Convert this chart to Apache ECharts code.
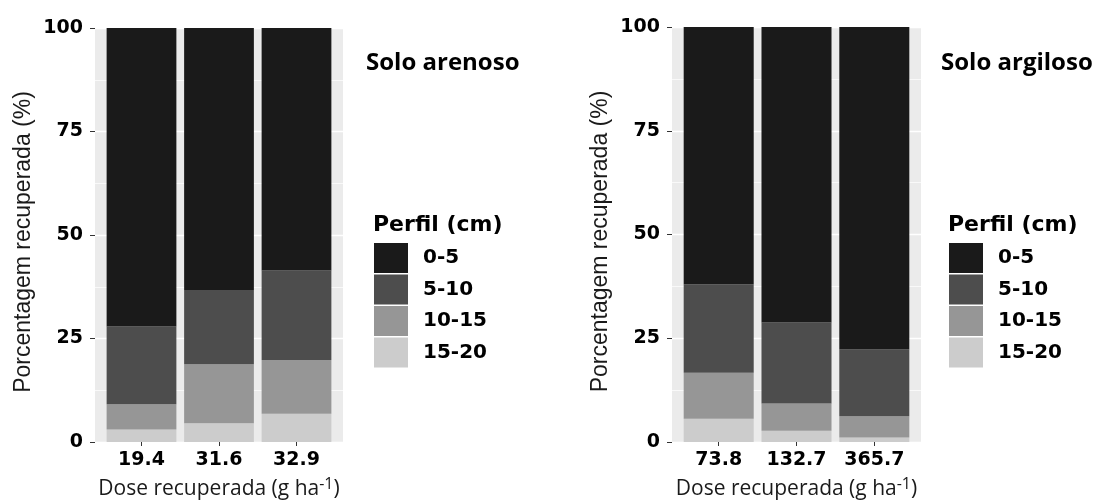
<!DOCTYPE html>
<html>
<head>
<meta charset="utf-8">
<script src="https://cdn.jsdelivr.net/npm/echarts@6/dist/echarts.min.js"></script>
<style>
  html, body { margin: 0; padding: 0; background: #fff; }
  #chart { width: 1099px; height: 501px; }
</style>
</head>
<body>
<div id="chart"></div>
<script>
// dados
const perfis = ['0-5', '5-10', '10-15', '15-20']
const coresPerfil = ['#1a1a1a', '#4d4d4d', '#969696', '#cccccc']

// Solo arenoso
const dosesArenoso = ['19.4', '31.6', '32.9']
const arenoso_0_5 = [72.1, 63.3, 58.6]
const arenoso_5_10 = [18.8, 17.9, 21.6]
const arenoso_10_15 = [6.1, 14.3, 13.0]
const arenoso_15_20 = [3.0, 4.5, 6.8]

// Solo argiloso
const dosesArgiloso = ['73.8', '132.7', '365.7']
const argiloso_0_5 = [62.0, 71.2, 77.7]
const argiloso_5_10 = [21.3, 19.5, 16.1]
const argiloso_10_15 = [11.1, 6.6, 5.1]
const argiloso_15_20 = [5.6, 2.7, 1.1]

const yTicks = [0, 25, 50, 75, 100]

const fontTick = 'DejaVu Sans'
const fontTitulo = 'Open Sans'

const chart = echarts.init(document.getElementById('chart'))

// eixo y visível (no painel cinza)
const eixoYPainel = (grid) => ({
  gridIndex: grid,
  type: 'value',
  min: yTicks[0],
  max: yTicks[yTicks.length - 1],
  interval: 25,
  name: 'Porcentagem recuperada (%)',
  nameLocation: 'middle',
  nameRotate: 90,
  nameGap: 60,
  nameTextStyle: { fontFamily: 'Liberation Sans', fontSize: 23, color: '#1a1a1a', padding: [0, 14, 0, 0] },
  axisLine: { show: false },
  axisTick: { show: true, length: 5, lineStyle: { color: '#333', width: 1 } },
  axisLabel: { margin: 12, fontFamily: fontTick, fontWeight: 'bold', fontSize: 19, color: '#000' },
  splitLine: { show: true, lineStyle: { color: '#fff', width: 1.4 } },
  minorTick: { show: false, splitNumber: 2 },
  minorSplitLine: { show: true, lineStyle: { color: '#fff', width: 0.7 } }
})

const eixoYDados = (grid) => ({
  gridIndex: grid, type: 'value', min: 0, max: 100, show: false
})

const eixoXFundo = (grid) => ({
  gridIndex: grid, type: 'value', min: 0, max: 1, show: false
})

const eixoXDados = (grid, doses) => ({
  gridIndex: grid,
  type: 'category',
  data: doses,
  name: 'Dose recuperada (g ha{sup|-1})',
  nameLocation: 'middle',
  nameGap: 34,
  nameTextStyle: {
    fontFamily: fontTitulo, fontSize: 21, color: '#1a1a1a',
    rich: { sup: { fontFamily: fontTitulo, fontSize: 16, color: '#1a1a1a', verticalAlign: 'top', padding: [0, 0, 10, 0] } }
  },
  axisLine: { show: false },
  axisTick: { show: true, alignWithLabel: true, length: 4, lineStyle: { color: '#333', width: 1 } },
  axisLabel: { interval: 0, hideOverlap: false, margin: 9, fontFamily: fontTick, fontWeight: 'bold', fontSize: 19, color: '#000' }
})

const serieBarra = (nome, cor, dados, eixo, pilha) => ({
  name: nome,
  type: 'bar',
  stack: pilha,
  xAxisIndex: eixo,
  yAxisIndex: eixo,
  barWidth: '90%',
  itemStyle: { color: cor },
  emphasis: { disabled: true },
  data: dados
})

const legenda = (left) => ({
  orient: 'vertical',
  left: left,
  top: 243,
  padding: 0,
  itemWidth: 34,
  itemHeight: 30,
  itemGap: 1.5,
  icon: 'rect',
  selectedMode: false,
  data: perfis,
  textStyle: { fontFamily: fontTick, fontWeight: 'bold', fontSize: 20, color: '#000', padding: [0, 0, 0, 10] }
})

const painelFundo = { show: true, backgroundColor: '#ebebeb', borderWidth: 0, outerBoundsMode: 'none' }

chart.setOption({
  animation: false,
  title: [
    { text: 'Solo arenoso', left: 366, top: 51, padding: 0,
      textStyle: { fontFamily: fontTitulo, fontWeight: 'bold', fontSize: 24, color: '#000' } },
    { text: 'Solo argiloso', left: 941, top: 51, padding: 0,
      textStyle: { fontFamily: fontTitulo, fontWeight: 'bold', fontSize: 24, color: '#000' } },
    { text: 'Perfil (cm)', left: 373, top: 214, padding: 0,
      textStyle: { fontFamily: fontTick, fontWeight: 'bold', fontSize: 22, color: '#000' } },
    { text: 'Perfil (cm)', left: 948, top: 214, padding: 0,
      textStyle: { fontFamily: fontTick, fontWeight: 'bold', fontSize: 22, color: '#000' } }
  ],
  legend: [legenda(374), legenda(949)],
  grid: [
    Object.assign({ left: 95, top: 28, width: 248, height: 414 }, painelFundo),
    { left: 102.75, top: 28, width: 232.5, height: 414, outerBoundsMode: 'none' },
    Object.assign({ left: 672, top: 27, width: 249, height: 415 }, painelFundo),
    { left: 679.8, top: 27, width: 233.4, height: 415, outerBoundsMode: 'none' }
  ],
  xAxis: [
    eixoXFundo(0),
    eixoXDados(1, dosesArenoso),
    eixoXFundo(2),
    eixoXDados(3, dosesArgiloso)
  ],
  yAxis: [
    eixoYPainel(0),
    eixoYDados(1),
    eixoYPainel(2),
    eixoYDados(3)
  ],
  series: [
    // ordem de empilhamento: 15-20 em baixo, 0-5 em cima
    serieBarra('15-20', coresPerfil[3], arenoso_15_20, 1, 'arenoso'),
    serieBarra('10-15', coresPerfil[2], arenoso_10_15, 1, 'arenoso'),
    serieBarra('5-10', coresPerfil[1], arenoso_5_10, 1, 'arenoso'),
    serieBarra('0-5', coresPerfil[0], arenoso_0_5, 1, 'arenoso'),
    serieBarra('15-20', coresPerfil[3], argiloso_15_20, 3, 'argiloso'),
    serieBarra('10-15', coresPerfil[2], argiloso_10_15, 3, 'argiloso'),
    serieBarra('5-10', coresPerfil[1], argiloso_5_10, 3, 'argiloso'),
    serieBarra('0-5', coresPerfil[0], argiloso_0_5, 3, 'argiloso')
  ]
})
</script>
</body>
</html>
